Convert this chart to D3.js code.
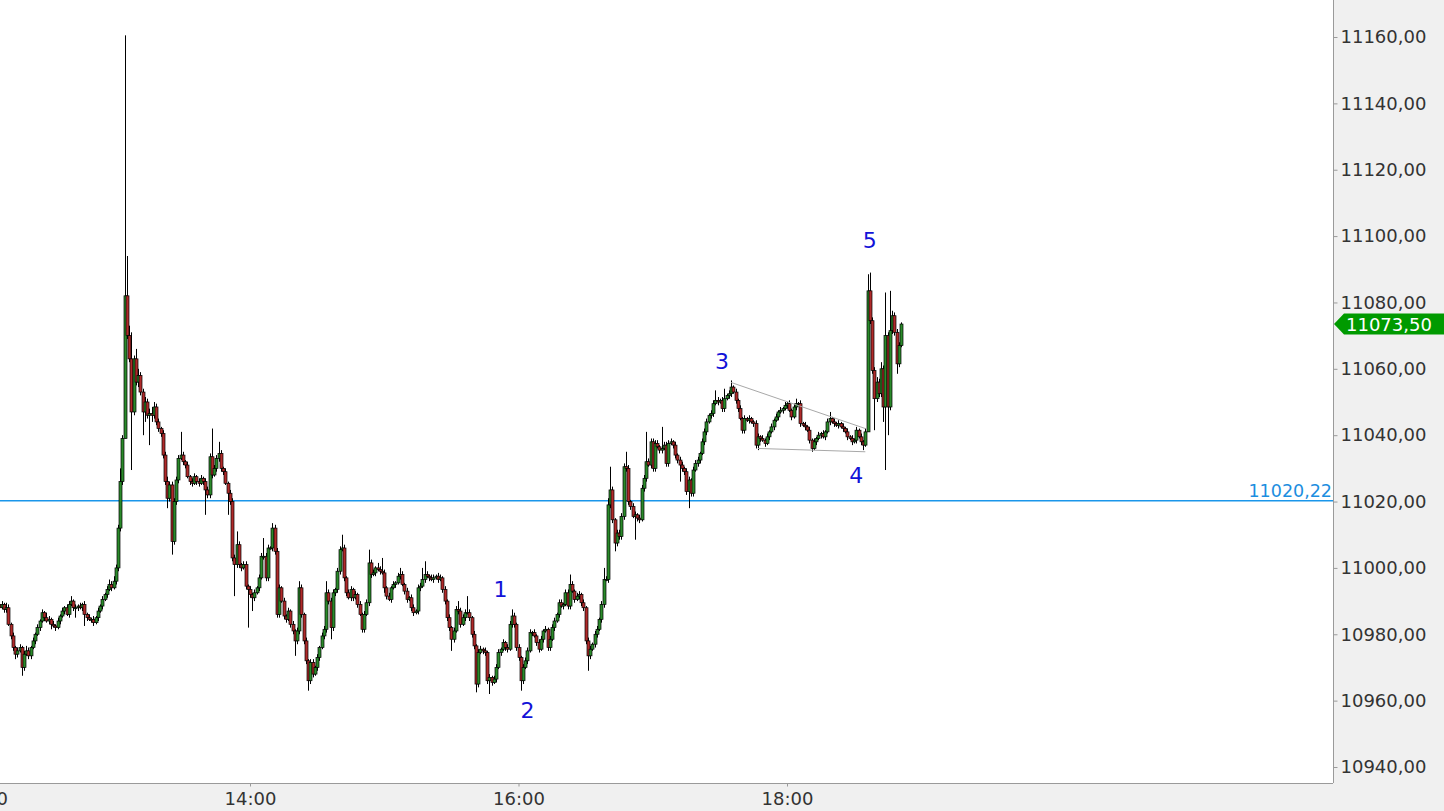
<!DOCTYPE html>
<html><head><meta charset="utf-8">
<script src="https://cdn.jsdelivr.net/npm/d3@7"></script>
<style>html,body{margin:0;padding:0;background:#fff;overflow:hidden}text{font-family:"DejaVu Sans",sans-serif}</style>
</head><body><svg id="c" width="1444" height="811"></svg>
<script>
// ---- data (1-minute bars) ----
const firstBar = "12:08";
const firstOpen = 10989;
const closes = [
 10988,10989,10987.5,10988,10983,10979.5,10976,10974,10975,10976,
 10970,10974,10975,10973.5,10976,10978,10980,10982,10984,10986.5,
 10985,10984,10984.5,10983,10982.5,10982,10984,10985.5,10987,10988,
 10986,10989,10990,10988,10988,10988.5,10988,10989,10986,10985,
 10984.5,10984.5,10983.5,10985,10987,10988.5,10990.5,10992,10993.5,10995,
 10994,10996,11000,11012,11026,11039,11082,11070,11063,11047,
 11063,11056,11058,11053,11047,11050,11046,11046.5,11046,11048.5,
 11044,11042,11040.5,11034,11026,11021,11025,11008,11020,11026.5,
 11033,11034,11032,11031,11027.5,11026,11025.5,11027.5,11026,11025.5,
 11027,11026,11023.5,11022,11033.5,11028,11030,11033,11034.5,11030,
 11029,11025.5,11022.5,11020,11003,11001,11007,11001,11000,11001,
 10994.5,10993.5,10992,10991,10992.5,10994,10997,11003.5,11003.5,10997,
 11006,11006,11012,11005,10986,10994,10990,10985.5,10984.5,10987,
 10983,10981,10978,10981,10994,10986,10978,10972,10966,10971.5,
 10968,10970,10973,10976,10979.5,10981.5,10992.5,10990,10982,10992.5,
 10993.5,10999,11005.5,11006,10997,10992.5,10991,10993.5,10991,10992,
 10989,10986,10981.5,10986,10989.5,11001.5,10998,10998.5,11000,10999.5,
 10999,10998.5,10994,10991.5,10990.5,10994,10995,10995.5,10997.5,10998,
 10995,10993,10990.5,10991,10988,10986.5,10987,10994,10994.5,10996.5,
 10998,10997.5,10997,10996.5,10997,10997.5,10996.5,10997,10993.5,10990,
 10985,10982,10978.5,10981,10987.5,10987,10983,10985,10986.5,10986.5,
 10985,10980,10976.5,10965,10974.5,10975.5,10975,10974.5,10966,10967,
 10965.5,10966.5,10970,10974.5,10975.5,10977.5,10976,10975.5,10983,10985.5,
 10983,10976,10973,10966,10970,10972,10975,10980.5,10980.5,10979.5,
 10977.5,10975.5,10978.5,10981,10981.5,10976,10978.5,10982,10984,10986,
 10989.5,10988.5,10989,10992.5,10988.5,10995,10993,10990.5,10991.5,10992,
 10989.5,10988,10978,10973.5,10975.5,10977,10980,10981.5,10984.5,10989,
 10996.5,10996.5,11019,11023.5,11014.5,11007.5,11010.5,11009.5,11015.5,11030.5,
 11030,11020,11018.5,11015.5,11016,11015,11014.5,11024,11027,11032,
 11031,11038,11030,11037.5,11036.5,11035.5,11036,11037,11031.5,11037.5,
 11038,11037,11034,11032.5,11031,11030,11029,11023,11026.5,11022.5,
 11029.5,11031.5,11032.5,11034.5,11038,11041,11044,11046,11046.5,11049.5,
 11050.5,11050,11050.5,11048,11051,11052,11052.5,11054.5,11053,11050.5,
 11048,11045,11041.5,11045,11044.5,11045,11044,11043.5,11037,11039.5,
 11039,11038.5,11037.5,11039.5,11041,11042.5,11044.5,11045.5,11047,11047.5,
 11048,11049,11049.5,11047.5,11045.5,11048.5,11049.5,11049.5,11043.5,11043,
 11042.5,11041.5,11038.5,11036,11038,11039,11040,11040.5,11039.5,11041,
 11044,11045,11044,11043.5,11043,11043.5,11042.5,11042,11041,11039.5,
 11039,11038,11038.5,11041.5,11039.5,11038,11037,11041,11083.5,11074.5,
 11059.5,11051,11056,11052.5,11060,11048.5,11070,11048.5,11071.5,11076,
 11071,11061.5,11067,11073.5
];
const upperWick = [
 1,1,0.5,1.5,1,0.5,1,0.5,1,1,
 0.5,1,1.5,1,0.5,1,0.5,1,0.5,1,
 0.5,1.5,1,0.5,1,0.5,1,0.5,1,0.5,
 1,1,1.5,0.5,1,0.5,1,0.5,1,0.5,
 1,0.5,1,0.5,1,0.5,1,0.5,1,1.5,
 1,1.5,1,1,4,1,78.5,12,3,8,
 1,3,2,1,1,1.5,1,1.5,2,1.5,
 1,1,0.5,1,1,1.5,1,1,1,1,
 1,7,1,0.5,1,0.5,1,1,0.5,1,
 1,0.5,1,1,1,8.5,1,1,3.5,1,
 0.5,1,0.5,1,1,1,4,1,0.5,1,
 1,0.5,1,0.5,1,0.5,1,1,5.5,1,
 1,0.5,1.5,1,1,1,0.5,1,0.5,1,
 0.5,1,0.5,1,2,1,0.5,1,0.5,1,
 1,0.5,1,0.5,1,1,3.5,1,1,1,
 0.5,1,1,4,1,0.5,1,1,0.5,1,
 0.5,1,0.5,1,1,4,1,1,0.5,1.5,
 1,4,1,0.5,1,0.5,1,0.5,1,2,
 1,0.5,1,0.5,1,1,0.5,1,1,3.5,
 4,1,0.5,1,1,0.5,1,1,0.5,1,
 0.5,1,0.5,1,1,2.5,1,1,1,5,
 1,0.5,1,0.5,1,1,0.5,1,0.5,1,
 0.5,1,1,1,0.5,1,0.5,1,1,2,
 1,0.5,1,0.5,1,1,1,1,0.5,1,
 0.5,1,1,0.5,1,0.5,1,1,1,0.5,
 1,1,0.5,1,1,3,1,0.5,1,1,
 0.5,1,0.5,1,1,0.5,1,1,0.5,1,
 3.5,1,2,7,1,0.5,1,1,1,1,
 4.5,1,0.5,1,1,0.5,1,1,1,9,
 1,1,1,1,1,0.5,6.5,1,1,1,
 1,0.5,1,0.5,1,1,0.5,1,1,0.5,
 1,1,1,0.5,1,1,1,0.5,1,1,
 3,1,0.5,1,3,0.5,1,2,0.5,1,
 0.5,1,0.5,1,0.5,1,0.5,0.5,1,1,
 0.5,1,0.5,1,0.5,1,0.5,1,0.5,1,
 0.5,1,0.5,1,0.5,1,1.5,0.5,1,0.5,
 1,0.5,1,0.5,1,0.5,1,0.5,1,0.5,
 1,2,0.5,1,0.5,1,0.5,1,0.5,1,
 0.5,1,0.5,1,0.5,1,0.5,1,5,5.5,
 1,1,1.5,1,2,1,13,1,12,1.5,
 1,1,1,0.5
];
const lowerWick = [
 1,0.5,1,1,0.5,1,1,1.5,1,0.5,
 2.5,1,0.5,1,1,0.5,1,0.5,1,0.5,
 1,0.5,1,1.5,0.5,1,0.5,1,0.5,1,
 0.5,1,0.5,1,3,1,0.5,1,3.5,1,
 0.5,1,1,0.5,1,0.5,1,0.5,1,0.5,
 1,0.5,1,1,1,1,0,1,1,17.5,
 1,1,1.5,1,7,3,1,9,2,1,
 1,1,1,1,1,3,1,4,1,1,
 1,0.5,1,1,0.5,1,1,0.5,1,1,
 0.5,1,7.5,1,1,1,0.5,1,1,1,
 1,0.5,6.5,1,1,9.5,1,1,1,0.5,
 1,11.5,1,4,1,0.5,1,0.5,1,1,
 1,0.5,1,1,1,1,0.5,1,1,0.5,
 1,1,4.5,1,1,1,1,1,3,1,
 1,0.5,1,1,0.5,1,1,1,3.5,1,
 1,1,1,0.5,1,1,0.5,1,1,0.5,
 1,0.5,1,1,0.5,1,1,0.5,1,0.5,
 1,0.5,1.5,1,0.5,1,0.5,1,0.5,1,
 0.5,1,1,0.5,1,1,0.5,1,1,0.5,
 1,0.5,1,0.5,1,0.5,1,0.5,1,1,
 1,1,3.5,1,0.5,1,1,0.5,1,0.5,
 1,1,1,2.5,1,0.5,1,1,1,4,
 1,0.5,1,0.5,1,0.5,1,1,0.5,1,
 1,1,1,3,1,0.5,1,0.5,1,0.5,
 1,1,0.5,1,0.5,1,1,0.5,1,0.5,
 1,0.5,1,0.5,1,1,0.5,1,0.5,1,
 1,1,1,4.5,1,0.5,1,1,0.5,1,
 1,0.5,1,1,1,2.5,1,1,1,1,
 1,1,1,0.5,7,1,1,0.5,1,1,
 0.5,1,1,1,0.5,1,1,0.5,1,1,
 0.5,1,1,1,5,1,1,1,5,1,
 1,0.5,1,1,0.5,1,1,0.5,1,1,
 0.5,1,0.5,1,1,0.5,1,1,0.5,1,
 1,0.5,1,1,0.5,1,0.5,1,1,1.5,
 1,0.5,1,0.5,1,0.5,1,0.5,1,0.5,
 1,0.5,1,0.5,1,0.5,1,0.5,1,0.5,
 1,0.5,1,1,0.5,1,0.5,1,0.5,1,
 0.5,1,0.5,1,0.5,1,0.5,1,0.5,1,
 0.5,1,0.5,1,0.5,1,1.5,0.5,0,1,
 1,9.5,1,1,1,4.5,19,8.5,1,1,
 1,3,1,0.5
];
const yTicks = [10940,10960,10980,11000,11020,11040,11060,11080,11100,11120,11140,11160];
const xTickLabels = ["12:00","14:00","16:00","18:00"];
const refLevel = 11020.22;
const lastPrice = 11073.50;
const waveLabels = ["1","2","3","4","5"];
const waveTimes = ["15:52","16:04","17:31","18:31","18:37"];
const wavePrices = [10993.6,10956.9,11062.3,11027.7,11098.8];
const triUpperTimes = ["17:35","18:35"], triUpperPrices = [11055.9,11042];
const triLowerTimes = ["17:47","18:35"], triLowerPrices = [11036,11035];

// ---- chart ----
const W = 1444, H = 811, plotR = 1333, plotB = 783;
const parse = d3.timeParse("%H:%M");
const fmtNum = v => d3.format(".2f")(v).replace(".", ",");
const x = d3.scaleTime().domain([parse("12:00"), parse("22:00")]).range([-18.5, 1324]);
const y = d3.scaleLinear().domain([10940, 11160]).range([767, 37]);

const svg = d3.select("#c");
svg.append("rect").attr("width", W).attr("height", H).attr("fill", "#fff");
svg.append("defs").append("clipPath").attr("id", "plot")
  .append("rect").attr("x", 0).attr("y", 0).attr("width", plotR).attr("height", plotB);
const g = svg.append("g").attr("clip-path", "url(#plot)");

const t0 = parse(firstBar);
const bars = closes.map((c, i) => {
  const o = i === 0 ? firstOpen : closes[i - 1];
  return { t: d3.timeMinute.offset(t0, i), o, c,
    h: Math.max(o, c) + upperWick[i], l: Math.min(o, c) - lowerWick[i] };
});

// reference level
g.append("line").attr("x1", 0).attr("x2", plotR).attr("y1", y(refLevel)).attr("y2", y(refLevel))
  .attr("stroke", "#1a96ea").attr("stroke-width", 1.5);
g.append("text").attr("x", plotR - 1).attr("y", y(refLevel) - 4)
  .attr("text-anchor", "end").attr("font-size", 17.5).attr("fill", "#1c8ee0").text(fmtNum(refLevel));

// wicks
g.append("g").selectAll("line").data(bars).join("line")
  .attr("x1", d => Math.round(x(d.t)) + 0.5).attr("x2", d => Math.round(x(d.t)) + 0.5)
  .attr("y1", d => y(d.h)).attr("y2", d => y(d.l))
  .attr("stroke", "#000").attr("stroke-width", 1);
// bodies
g.append("g").selectAll("rect").data(bars).join("rect")
  .attr("x", d => Math.round(x(d.t)) - 1)
  .attr("width", 3)
  .attr("y", d => y(Math.max(d.o, d.c)))
  .attr("height", d => Math.max(1, Math.abs(y(d.o) - y(d.c))))
  .attr("fill", d => d.c >= d.o ? "#2a8a2a" : "#b02a2a")
  .attr("stroke", "#000").attr("stroke-width", 0.7);

// triangle lines
const tri = [[triUpperTimes, triUpperPrices], [triLowerTimes, triLowerPrices]];
g.append("g").selectAll("line").data(tri).join("line")
  .attr("x1", d => x(parse(d[0][0]))).attr("y1", d => y(d[1][0]))
  .attr("x2", d => x(parse(d[0][1]))).attr("y2", d => y(d[1][1]))
  .attr("stroke", "#a8a8a8").attr("stroke-width", 1);

// wave labels
g.append("g").selectAll("text").data(waveLabels).join("text")
  .attr("x", (d, i) => x(parse(waveTimes[i])))
  .attr("y", (d, i) => y(wavePrices[i]))
  .attr("text-anchor", "middle").attr("dominant-baseline", "central")
  .attr("font-size", 22).attr("fill", "#1212d8").text(d => d);

// right axis panel
svg.append("rect").attr("x", plotR).attr("y", 0).attr("width", W - plotR).attr("height", H).attr("fill", "#f0f0f0");
svg.append("rect").attr("x", 0).attr("y", plotB).attr("width", W).attr("height", H - plotB).attr("fill", "#f0f0f0");
const ya = svg.append("g").attr("transform", `translate(${plotR + 0.5},0)`)
  .call(d3.axisRight(y).tickValues(yTicks).tickSize(4).tickPadding(3).tickFormat(fmtNum));
ya.select(".domain").attr("stroke", "#9a9a9a").attr("d", `M0,0V${plotB}`);
ya.selectAll(".tick line").attr("stroke", "#9a9a9a");
ya.selectAll(".tick text").attr("font-size", 18).attr("fill", "#333").attr("font-family", "DejaVu Sans");

const xa = svg.append("g").attr("transform", `translate(0,${plotB + 0.5})`)
  .call(d3.axisBottom(x).tickValues(xTickLabels.map(parse)).tickSize(0).tickPadding(9)
    .tickFormat(d3.timeFormat("%H:%M")));
xa.select(".domain").attr("stroke", "#9a9a9a").attr("d", `M0,0H${plotR}`);
xa.selectAll(".tick").append("line").attr("y1", 0).attr("y2", 3).attr("stroke", "#9a9a9a");
xa.selectAll(".tick text").attr("font-size", 18).attr("fill", "#333").attr("font-family", "DejaVu Sans");

// last price marker
const ly = y(lastPrice);
svg.append("path")
  .attr("d", `M${plotR + 1},${ly} L${plotR + 11},${ly - 10.5} H${W} V${ly + 10.5} H${plotR + 11} Z`)
  .attr("fill", "#009a00");
svg.append("text").attr("x", plotR + 13).attr("y", ly).attr("dominant-baseline", "central")
  .attr("font-size", 18).attr("fill", "#fff").text(fmtNum(lastPrice));
</script></body></html>
